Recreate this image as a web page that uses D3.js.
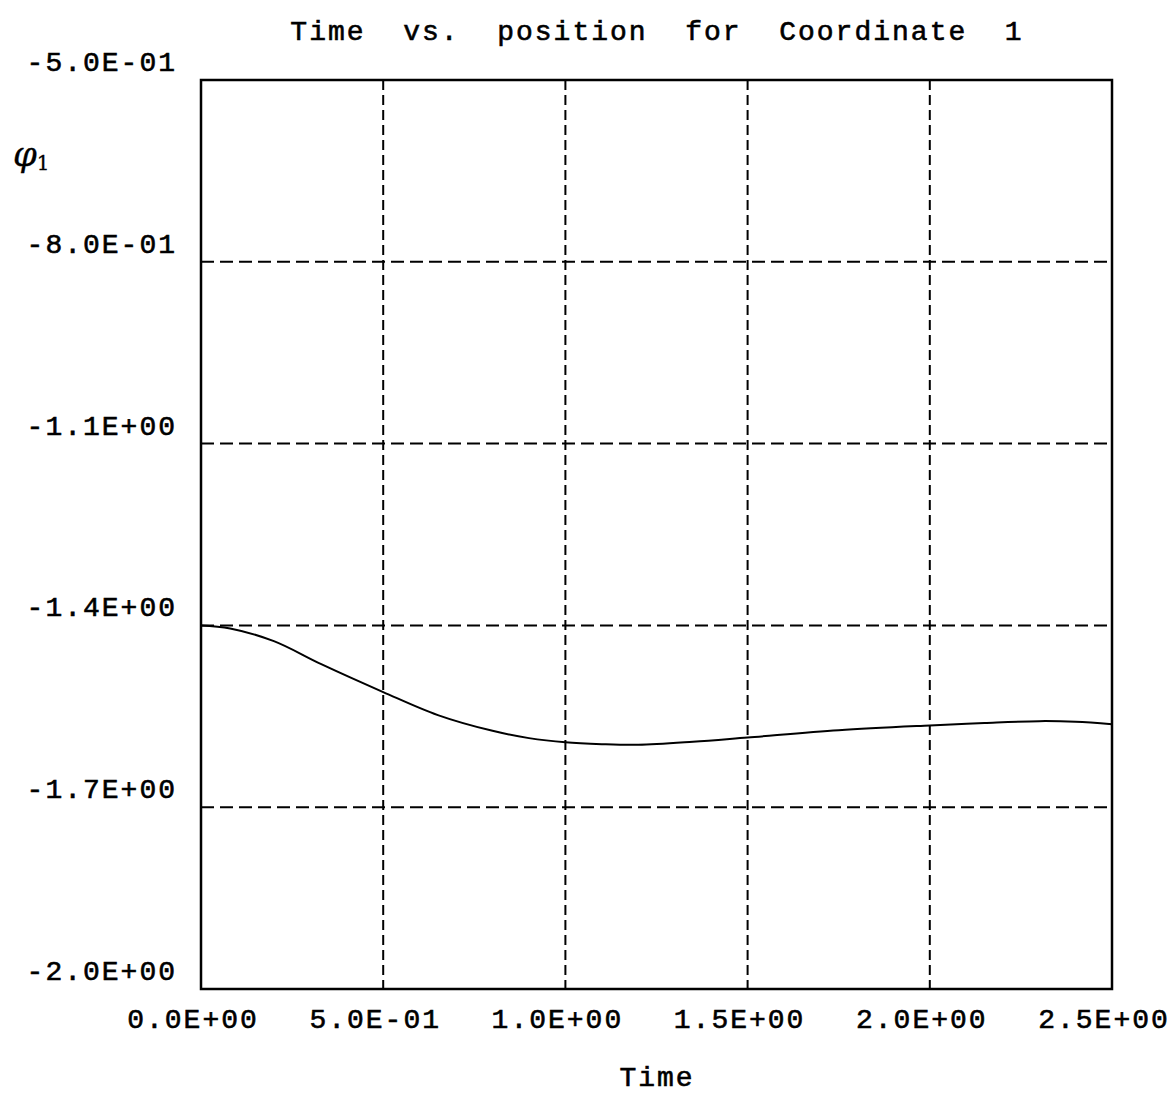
<!DOCTYPE html>
<html lang="en">
<head>
<meta charset="UTF-8">
<title>Time vs. position for Coordinate 1</title>
<script src="https://cdn.jsdelivr.net/npm/d3@7"></script>
<style>
  body { margin: 0; background: #fff; }
  svg text { font-family: "Liberation Mono", monospace; font-size: 28px; fill: #000; letter-spacing: 2px; stroke: #000; stroke-width: 0.6px; }
</style>
</head>
<body>
<div id="chart"></div>
<script>
// values
const time = [0, 0.08, 0.2, 0.33, 0.5, 0.65, 0.8, 0.9, 1.0, 1.1, 1.2, 1.35, 1.5, 1.75, 2.0, 2.15, 2.3, 2.4, 2.5];
const phi1 = [-1.400, -1.405, -1.426, -1.464, -1.510, -1.548, -1.574, -1.586, -1.593, -1.596, -1.597, -1.592, -1.585, -1.573, -1.565, -1.561, -1.558, -1.559, -1.563];

const xTicks = [0, 0.5, 1.0, 1.5, 2.0, 2.5];
const xTickLabels = ["0.0E+00", "5.0E-01", "1.0E+00", "1.5E+00", "2.0E+00", "2.5E+00"];
const yTicks = [-0.5, -0.8, -1.1, -1.4, -1.7, -2.0];
const yTickLabels = ["-5.0E-01", "-8.0E-01", "-1.1E+00", "-1.4E+00", "-1.7E+00", "-2.0E+00"];

const W = 1174, H = 1095;
const plotL = 201, plotR = 1112, plotT = 80, plotB = 989;

const svg = d3.select("#chart").append("svg")
  .attr("width", W)
  .attr("height", H);

const x = d3.scaleLinear().domain([0, 2.5]).range([plotL, plotR]);
const y = d3.scaleLinear().domain([-0.5, -2.0]).range([plotT, plotB]);

// grid (inner ticks only)
svg.append("g")
  .selectAll("line")
  .data(xTicks.slice(1, -1))
  .join("line")
  .attr("x1", d => x(d)).attr("x2", d => x(d))
  .attr("y1", plotT).attr("y2", plotB)
  .attr("stroke", "#000")
  .attr("stroke-width", 2)
  .attr("stroke-dasharray", "10,5");

svg.append("g")
  .selectAll("line")
  .data(yTicks.slice(1, -1))
  .join("line")
  .attr("x1", plotL).attr("x2", plotR)
  .attr("y1", d => y(d)).attr("y2", d => y(d))
  .attr("stroke", "#000")
  .attr("stroke-width", 2)
  .attr("stroke-dasharray", "13,6");

// frame
svg.append("rect")
  .attr("x", plotL).attr("y", plotT)
  .attr("width", plotR - plotL).attr("height", plotB - plotT)
  .attr("fill", "none")
  .attr("stroke", "#000")
  .attr("stroke-width", 2.5);

// curve
const line = d3.line()
  .x((d, i) => x(time[i]))
  .y(d => y(d))
  .curve(d3.curveCatmullRom.alpha(0.5));

svg.append("path")
  .datum(phi1)
  .attr("d", line)
  .attr("fill", "none")
  .attr("stroke", "#000")
  .attr("stroke-width", 2);

// tick labels
svg.append("g")
  .selectAll("text")
  .data(yTicks)
  .join("text")
  .attr("x", 177)
  .attr("y", d => y(d) - 9)
  .attr("text-anchor", "end")
  .text((d, i) => yTickLabels[i]);

svg.append("g")
  .selectAll("text")
  .data(xTicks)
  .join("text")
  .attr("x", d => x(d) - 8)
  .attr("y", 1028)
  .attr("text-anchor", "middle")
  .text((d, i) => xTickLabels[i]);

// title
svg.append("text")
  .attr("x", 657)
  .attr("y", 40)
  .attr("text-anchor", "middle")
  .style("white-space", "pre")
  .text("Time  vs.  position  for  Coordinate  1");

// x axis label
svg.append("text")
  .attr("x", 657)
  .attr("y", 1086)
  .attr("text-anchor", "middle")
  .text("Time");

// y axis label
const yl = svg.append("text")
  .attr("x", 13)
  .attr("y", 166)
  .style("font-family", "'DejaVu Serif', serif")
  .style("letter-spacing", "0px")
  .style("stroke-width", "0.3px");
yl.append("tspan")
  .style("font-style", "italic")
  .style("font-size", "34px")
  .text("φ");
yl.append("tspan")
  .attr("dy", 4)
  .style("font-size", "20px")
  .text("1");
</script>
</body>
</html>
